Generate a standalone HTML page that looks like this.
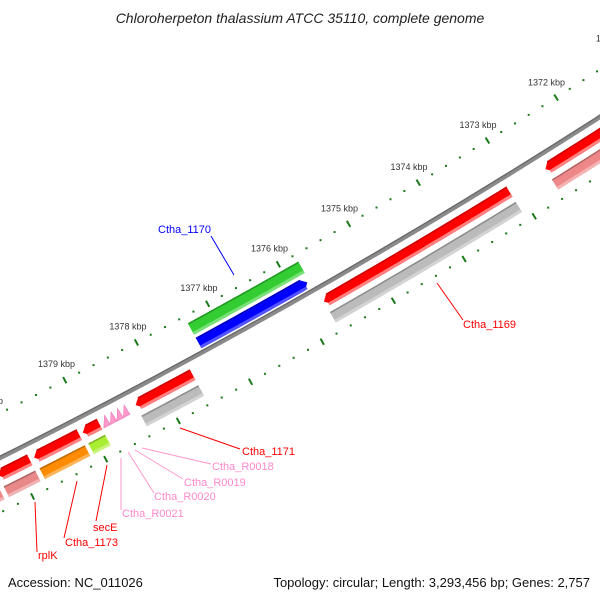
<!DOCTYPE html>
<html><head><meta charset="utf-8"><style>
html,body{margin:0;padding:0;background:#fff;width:600px;height:600px;overflow:hidden}
svg{display:block;font-family:"Liberation Sans",sans-serif}
</style></head><body>
<svg id="map" width="600" height="600" viewBox="0 0 600 600" xmlns="http://www.w3.org/2000/svg">
<text x="300" y="23" text-anchor="middle" font-size="14" font-style="italic" fill="#222">Chloroherpeton thalassium ATCC 35110, complete genome</text>
<g id="rulers"></g>
<g id="backbone"></g>
<g id="feats"></g>
<g font-size="11">
<line x1="211" y1="236" x2="234" y2="275" stroke="#00f"/>
<text x="158" y="233" fill="#00f">Ctha_1170</text>
<line x1="437" y1="283" x2="463" y2="320" stroke="#f00"/>
<text x="463" y="328" fill="#f00">Ctha_1169</text>
<line x1="180" y1="428" x2="240" y2="449" stroke="#f00"/>
<text x="242" y="455" fill="#f00">Ctha_1171</text>
<line x1="142" y1="448" x2="211" y2="464" stroke="#f9c"/>
<text x="212" y="470" fill="#f8c">Ctha_R0018</text>
<line x1="135" y1="450" x2="183" y2="479" stroke="#f9c"/>
<text x="184" y="486" fill="#f8c">Ctha_R0019</text>
<line x1="128" y1="452" x2="154" y2="493" stroke="#f9c"/>
<text x="154" y="500" fill="#f8c">Ctha_R0020</text>
<line x1="121" y1="458" x2="121" y2="510" stroke="#f9c"/>
<text x="122" y="517" fill="#f8c">Ctha_R0021</text>
<line x1="107" y1="465" x2="96" y2="521" stroke="#f00"/>
<text x="93" y="531" fill="#f00">secE</text>
<line x1="77" y1="481" x2="64" y2="538" stroke="#f00"/>
<text x="65" y="546" fill="#f00">Ctha_1173</text>
<line x1="35" y1="502" x2="37" y2="552" stroke="#f00"/>
<text x="38" y="559" fill="#f00">rplK</text>
</g>
<text x="8" y="587" font-size="13" fill="#111">Accession: NC_011026</text>
<text x="590" y="587" font-size="13" text-anchor="end" fill="#111">Topology: circular; Length: 3,293,456 bp; Genes: 2,757</text>
</svg>
<script>
// data (kbp)
const majorTicks = [1369,1370,1371,1372,1373,1374,1375,1376,1377,1378,1379,1380,1381,1382];
const tickLabels = ["1369 kbp","1370 kbp","1371 kbp","1372 kbp","1373 kbp","1374 kbp","1375 kbp","1376 kbp","1377 kbp","1378 kbp","1379 kbp","1380 kbp","1381 kbp","1382 kbp"];
const revNames  = ["Ctha_1168","Ctha_1169","Ctha_1171","secE","Ctha_1173","rplK","rplA"];
const revStart  = [1370.6,1373.10,1377.58,1378.87,1379.15,1379.83,1380.32];
const revEnd    = [1372.58,1375.74,1378.37,1379.10,1379.77,1380.26,1381.3];
const compColor = ["#ee8888","#bbbbbb","#bbbbbb","#aaee33","#ff8c00","#e88888","#ee8888"];
const trnaNames = ["Ctha_R0018","Ctha_R0019","Ctha_R0020","Ctha_R0021"];
const trnaPos   = [1378.53,1378.62,1378.71,1378.80];
const geneStart = [1375.77];
const geneEnd   = [1377.33];
const cdsStart  = [1375.80];
const cdsEnd    = [1377.33];

// geometry of the (very large) circle
const P1=[0,458],P2=[300,298],P3=[600,117];
function circ(a,b,c){const d=2*(a[0]*(b[1]-c[1])+b[0]*(c[1]-a[1])+c[0]*(a[1]-b[1]));
 const A=a[0]*a[0]+a[1]*a[1],B=b[0]*b[0]+b[1]*b[1],C=c[0]*c[0]+c[1]*c[1];
 return [(A*(b[1]-c[1])+B*(c[1]-a[1])+C*(a[1]-b[1]))/d,(A*(c[0]-b[0])+B*(a[0]-c[0])+C*(b[0]-a[0]))/d];}
const CC=circ(P1,P2,P3);const R=Math.hypot(P1[0]-CC[0],P1[1]-CC[1]);
const thA=Math.atan2(299-CC[1],205-CC[0]);const K=81.5/R;
function pt(kb,off){const t=thA+(kb-1377)*K;const r=R-off;return [CC[0]+r*Math.cos(t),CC[1]+r*Math.sin(t)];}
const NS="http://www.w3.org/2000/svg";
function mk(tag,attrs,parent){const e=document.createElementNS(NS,tag);for(const k in attrs)e.setAttribute(k,attrs[k]);parent.appendChild(e);return e;}
function arc(b0,b1,off){const a=[];const n=24;for(let i=0;i<=n;i++){a.push(pt(b0+(b1-b0)*i/n,off));}return a;}
function ps(a){return a.map(p=>p[0].toFixed(2)+","+p[1].toFixed(2)).join(" ");}
const HL=6/81.5;
function barPoly(b0,b1,off,h,head){
 let s0=b0,s1=b1;if(head==="hi")s1=b1-HL;if(head==="lo")s0=b0+HL;
 let pts=arc(s0,s1,off+h/2);
 if(head==="hi")pts.push(pt(b1,off));else pts.push(pt(b1,off+h/2),pt(b1,off-h/2));
 pts=pts.concat(arc(s1,s0,off-h/2));
 if(head==="lo")pts.push(pt(b0,off));
 return pts;}
function stripe(b0,b1,o1,o2){return arc(b0,b1,o1).concat(arc(b1,b0,o2));}
function bar(g,b0,b1,off,h,col,light,dark,head){
 mk("polygon",{points:ps(barPoly(b0,b1,off,h,head)),fill:col},g);
 let s0=b0,s1=b1;if(head==="hi")s1=b1-HL*0.5;if(head==="lo")s0=b0+HL*0.5;
 mk("polygon",{points:ps(stripe(s0,s1,off-h/2+3,off-h/2)),fill:light},g);
 mk("polygon",{points:ps(stripe(s0+(head==="lo"?HL*0.4:0),s1-(head==="hi"?HL*0.4:0),off+h/2,off+h/2-1.5)),fill:dark},g);
}
// rulers
const rg=document.getElementById("rulers");
[40,-49].forEach(function(off){
 for(let i=0;i<majorTicks.length;i++){
  const kb=majorTicks[i];
  const a=pt(kb,off+3.5),b=pt(kb,off-3.5);
  const t=mk("line",{x1:a[0],y1:a[1],x2:b[0],y2:b[1],stroke:"#1a7a1a","stroke-width":2},rg);
  
  
  for(let j=1;j<5;j++){const c=pt(kb+j*0.2,off);
   const d=mk("rect",{x:c[0]-1,y:c[1]-1,width:2,height:2,fill:"#1a7a1a"},rg);
   
   }
  if(off>0){const l=pt(kb,off+18);
   const tx=mk("text",{x:l[0],y:l[1]+3,"text-anchor":"middle","font-size":"9",fill:"#333"},rg);
   tx.textContent=tickLabels[i];
   
   }
 }});
// backbone
const bg=document.getElementById("backbone");
const bb=mk("polyline",{points:ps(arc(1368,1383,0)),fill:"none",stroke:"#8a8a8a","stroke-width":4.5},bg);


mk("polyline",{points:ps(arc(1368,1383,1.6)),fill:"none",stroke:"#6a6a6a","stroke-width":1.3},bg);
// features
const fg=document.getElementById("feats");
function shade(c,f){const n=parseInt(c.slice(1),16);let r=n>>16,g=(n>>8)&255,b=n&255;
 if(f>0){r+=(255-r)*f;g+=(255-g)*f;b+=(255-b)*f;}else{r*=1+f;g*=1+f;b*=1+f;}
 return "rgb("+Math.round(r)+","+Math.round(g)+","+Math.round(b)+")";}
for(let i=0;i<revStart.length;i++){
 const g=mk("g",{},fg);
 
 
 bar(g,revStart[i],revEnd[i],-15,12,"#ff0000","#ff8080","#cc0000","hi");
 bar(g,revStart[i],revEnd[i],-33,12,compColor[i],shade(compColor[i],0.35),shade(compColor[i],-0.25),"none");
}
for(let i=0;i<trnaPos.length;i++){
 const c=trnaPos[i];const w=0.09;
 const tp=mk("polygon",{points:ps([pt(c+w/2,-20.5),pt(c-w/2,-20.5),pt(c-w/2+0.01,-9.5)]),fill:"#ff99cc",stroke:"#e87ab8","stroke-width":0.6},fg);
 
 
}
for(let i=0;i<geneStart.length;i++){
 const g=mk("g",{},fg);
 
 
 bar(g,geneStart[i],geneEnd[i],26,13,"#33cc33","#77e077","#229922","none");
}
for(let i=0;i<cdsStart.length;i++){
 const g=mk("g",{},fg);
 
 
 bar(g,cdsStart[i],cdsEnd[i],10,12,"#0000ff","#5555ff","#0000bb","lo");
}
</script>
</body></html>
